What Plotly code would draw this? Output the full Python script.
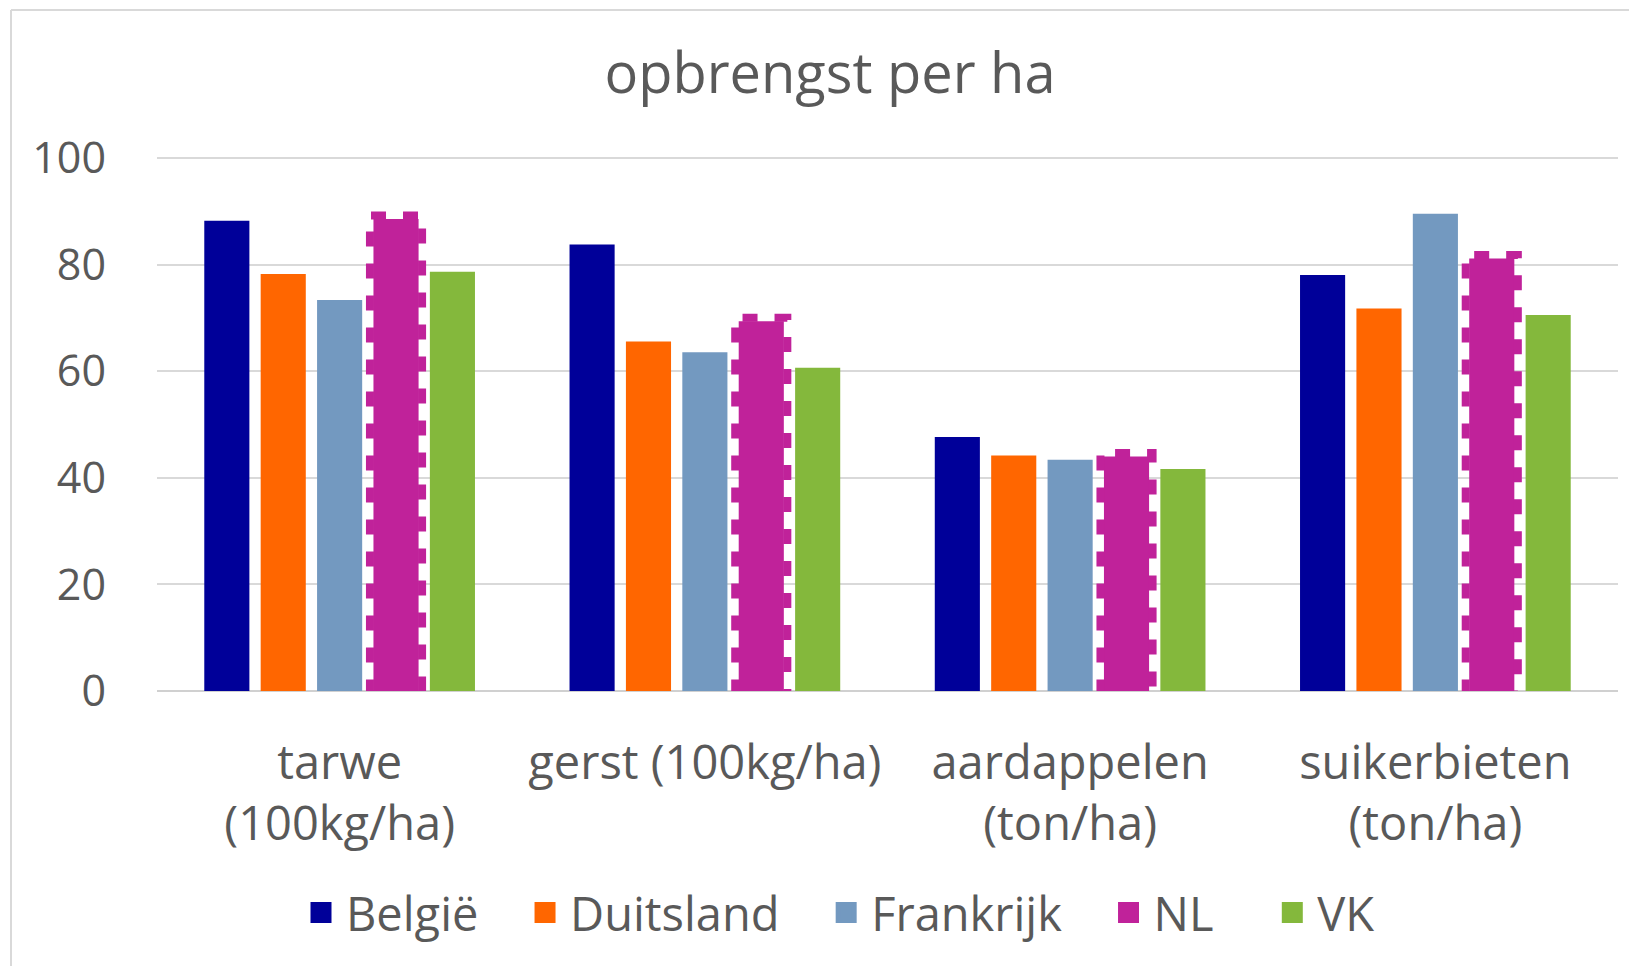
import plotly.graph_objects as go

categories = ["tarwe<br>(100kg/ha)", "gerst (100kg/ha)", "aardappelen<br>(ton/ha)", "suikerbieten<br>(ton/ha)"]
belgie = [88.3, 83.8, 47.7, 78.1]
duitsland = [78.3, 65.6, 44.2, 71.8]
frankrijk = [73.4, 63.6, 43.4, 89.6]
nl = [88.6, 69.4, 44.0, 81.2]
vk = [78.7, 60.7, 41.7, 70.6]
series_names = ["België", "Duitsland", "Frankrijk", "NL", "VK"]
legend_pad = [3, 3, 3, 4, 0]   # extra spacing after legend entries
colors = ["#000099", "#FF6600", "#7399C0", "#C0229A", "#84B83C"]
y_ticks = [0, 20, 40, 60, 80, 100]

# page has an 8px body margin; figure sized to fill the rest of the window
W, H = 1629, 958
L, R, T, B = 149, 19, 145, 275
Y_MAX = 101
FONT = "Open Sans"
GREY = "#595959"
BARGAP, GROUPGAP = 0.228, 0.2
OUTLINE_W = 8

plot_w = W - L - R
plot_h = H - T - B
ncat = len(categories)
x_per_px = ncat / plot_w
y_per_px = Y_MAX / plot_h

fig = go.Figure()
xs = list(range(ncat))
all_series = [belgie, duitsland, frankrijk, nl, vk]
for name, vals, col in zip(series_names, all_series, colors):
    fig.add_trace(go.Bar(x=xs, y=vals, name=name, marker=dict(color=col, line=dict(width=0)),
                         showlegend=False))

# dashed outline of the NL bars (derived from bar geometry and data)
n = len(series_names)
slot = (1 - BARGAP) / n
k = series_names.index("NL")
center_off = -(1 - BARGAP) / 2 + slot * (k + 0.5)
half = slot * (1 - GROUPGAP) / 2 + (OUTLINE_W / 2 - 0.5) * x_per_px
lift = (OUTLINE_W / 2 - 0.5) * y_per_px
ox, oy = [], []
for i, v in zip(xs, nl):
    xl, xr = i + center_off - half, i + center_off + half
    ox += [xl, xl, xr, xr, xl, None]
    oy += [-lift, v + lift, v + lift, -lift, -lift, None]
fig.add_trace(go.Scatter(x=ox, y=oy, mode="lines", showlegend=False, hoverinfo="skip",
                         line=dict(color=colors[k], width=OUTLINE_W, dash="15px,17px")))

# legend entries
for name, col, pad in zip(series_names, colors, legend_pad):
    fig.add_trace(go.Scatter(x=[None], y=[None], mode="markers", name=name + "\u00a0" * pad,
                             marker=dict(symbol="square", size=16, color=col,
                                         line=dict(color=col, width=5))))

def px_to_paper_x(px):
    return (px - L) / plot_w

def px_to_paper_y(py):
    return (H - B - py) / plot_h

fig.update_layout(
    width=W, height=H,
    margin=dict(l=L, r=R, t=T, b=B),
    paper_bgcolor="white", plot_bgcolor="white",
    barmode="group", bargap=BARGAP, bargroupgap=GROUPGAP,
    font=dict(family=FONT, color=GREY, size=46),
    title=dict(text="opbrengst per ha", x=822 / W, xref="container", xanchor="center",
               y=1 - 65 / H, yref="container", yanchor="middle",
               font=dict(size=56, color=GREY, family=FONT)),
    legend=dict(orientation="h", x=830 / W, xanchor="center", y=1 - 905 / H, yanchor="middle",
                xref="container", yref="container",
                font=dict(size=47, color=GREY, family=FONT), itemwidth=40,
                bgcolor="rgba(0,0,0,0)"),
    xaxis=dict(tickmode="array", tickvals=xs, ticktext=categories, range=[-0.5, ncat - 0.5],
               showgrid=False, zeroline=False, showline=False, ticks="",
               ticklabelstandoff=40, tickfont=dict(size=47, color=GREY)),
    yaxis=dict(range=[0, Y_MAX], tickvals=y_ticks, showgrid=True, gridcolor="#D9D9D9", gridwidth=2,
               zeroline=True, zerolinecolor="#D0D0D0", zerolinewidth=2, showline=False, ticks="",
               ticklabelstandoff=50, tickfont=dict(size=43, color=GREY)),
    shapes=[
        dict(type="line", xref="paper", yref="paper", x0=px_to_paper_x(3), x1=px_to_paper_x(W + 5),
             y0=px_to_paper_y(2), y1=px_to_paper_y(2), line=dict(color="#D9D9D9", width=2)),
        dict(type="line", xref="paper", yref="paper", x0=px_to_paper_x(3), x1=px_to_paper_x(3),
             y0=px_to_paper_y(2), y1=px_to_paper_y(H + 5), line=dict(color="#D9D9D9", width=2)),
    ],
)

fig.write_html("out.html")
